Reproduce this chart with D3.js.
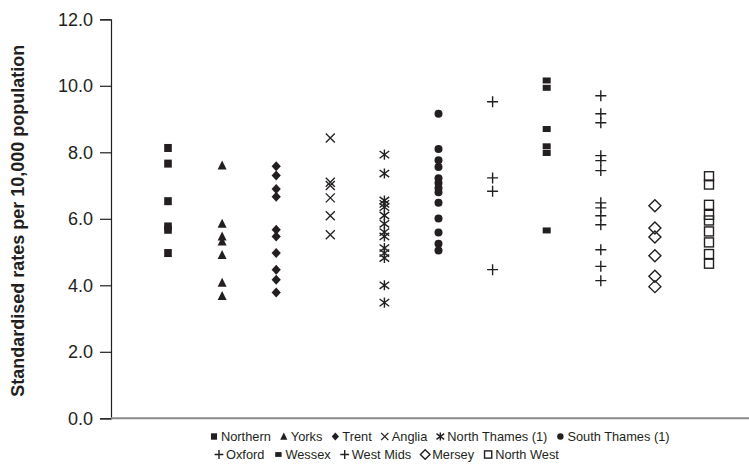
<!DOCTYPE html>
<html>
<head>
<meta charset="utf-8">
<script src="https://cdn.jsdelivr.net/npm/d3@7"></script>
<style>
  body { margin: 0; background: #fff; }
  svg text { font-family: "Liberation Sans", Arial, sans-serif; fill: #231f20; }
</style>
</head>
<body>
<div id="chart"></div>
<script>
// regions in x order
const regions = ["Northern", "Yorks", "Trent", "Anglia", "North Thames (1)", "South Thames (1)",
                 "Oxford", "Wessex", "West Mids", "Mersey", "North West"];

// standardised rates
const northern = [8.13, 7.66, 6.53, 5.77, 5.67, 4.97];
const yorks = [7.6, 5.85, 5.47, 5.32, 4.91, 4.08, 3.68];
const trent = [7.58, 7.3, 6.9, 6.66, 5.67, 5.47, 4.97, 4.47, 4.17, 3.78];
const anglia = [8.43, 7.1, 7.0, 6.63, 6.09, 5.52];
const northThames = [7.93, 7.36, 6.55, 6.45, 6.35, 6.1, 5.85, 5.6, 5.47, 5.12, 4.97, 4.82, 4.0, 3.48];
const southThames = [9.16, 8.1, 7.76, 7.56, 7.22, 7.08, 6.93, 6.8, 6.48, 6.01, 5.59, 5.25, 5.05];
const oxford = [9.52, 7.23, 6.83, 4.47];
const wessex = [10.16, 9.94, 8.7, 8.18, 7.98, 5.65];
const westMids = [9.7, 9.16, 8.89, 7.9, 7.75, 7.45, 6.48, 6.33, 6.09, 5.82, 5.07, 4.57, 4.14];
const mersey = [6.39, 5.72, 5.45, 4.89, 4.27, 3.96];
const northWest = [7.28, 7.03, 6.42, 6.12, 5.95, 5.62, 5.29, 4.94, 4.65];

const series = [northern, yorks, trent, anglia, northThames, southThames,
                oxford, wessex, westMids, mersey, northWest];
const markers = ["square", "triangle", "diamond", "cross", "asterisk", "circle",
                 "plus", "rect", "plus", "openDiamond", "openSquare"];

const yTicks = [0, 2, 4, 6, 8, 10, 12];
const legendRow1 = [0, 1, 2, 3, 4, 5];
const legendRow2 = [6, 7, 8, 9, 10];

const width = 749, height = 464;
const ink = "#231f20";

const svg = d3.select("#chart").append("svg")
    .attr("width", width)
    .attr("height", height);

const x = d3.scalePoint().domain(regions).range([168, 709]);
const y = d3.scaleLinear().domain([0, 12]).range([418.3, 19.3]);

// draws one marker centred on 0,0
function drawMarker(g, type, s) {
    s = s || 1;
    if (type === "square") {
        g.append("rect").attr("x", -3.8 * s).attr("y", -4 * s).attr("width", 7.6 * s).attr("height", 8 * s).attr("fill", ink);
    } else if (type === "rect") {
        g.append("rect").attr("x", -4 * s).attr("y", -3 * s).attr("width", 8 * s).attr("height", 6 * s).attr("fill", ink);
    } else if (type === "triangle") {
        g.append("path").attr("d", `M0,${-5 * s}L${4.5 * s},${4 * s}L${-4.5 * s},${4 * s}Z`).attr("fill", ink);
    } else if (type === "diamond") {
        g.append("path").attr("d", `M0,${-5 * s}L${4.6 * s},0L0,${5 * s}L${-4.6 * s},0Z`).attr("fill", ink);
    } else if (type === "circle") {
        g.append("circle").attr("r", 4 * s).attr("fill", ink);
    } else if (type === "cross") {
        const r = 4.5 * s;
        g.append("path").attr("d", `M${-r},${-r}L${r},${r}M${-r},${r}L${r},${-r}`)
            .attr("stroke", ink).attr("stroke-width", 1.3).attr("fill", "none");
    } else if (type === "asterisk") {
        const r = 4.8 * s;
        g.append("path").attr("d", `M${-r},${-r * 0.75}L${r},${r * 0.75}M${-r},${r * 0.75}L${r},${-r * 0.75}M0,${-r * 1.05}L0,${r * 1.05}`)
            .attr("stroke", ink).attr("stroke-width", 1.4).attr("fill", "none");
    } else if (type === "plus") {
        const r = 5.5 * s;
        g.append("path").attr("d", `M${-r},0L${r},0M0,${-r}L0,${r}`)
            .attr("stroke", ink).attr("stroke-width", 1.4).attr("fill", "none");
    } else if (type === "openDiamond") {
        g.append("path").attr("d", `M0,${-6 * s}L${6 * s},0L0,${6 * s}L${-6 * s},0Z`)
            .attr("stroke", ink).attr("stroke-width", 1.4).attr("fill", "none");
    } else if (type === "openSquare") {
        g.append("rect").attr("x", -4.5 * s).attr("y", -4.5 * s).attr("width", 9 * s).attr("height", 9 * s)
            .attr("stroke", ink).attr("stroke-width", 1.4).attr("fill", "none");
    }
}

// y axis
const yAxis = svg.append("g")
    .attr("transform", "translate(111,0)")
    .call(d3.axisLeft(y).tickValues(yTicks).tickFormat(d3.format(".1f")).tickSize(11).tickPadding(7));
yAxis.select(".domain").attr("stroke", ink).attr("stroke-width", 1.2);
yAxis.selectAll(".tick line").attr("stroke", ink).attr("stroke-width", 1.2);
yAxis.selectAll(".tick text").style("font-size", "18px").attr("fill", ink);

// x axis baseline (grey)
svg.append("line")
    .attr("x1", 111).attr("x2", width)
    .attr("y1", y(0)).attr("y2", y(0))
    .attr("stroke", "#8a8a8a").attr("stroke-width", 2);

// y title
svg.append("text")
    .attr("transform", `translate(24,${(y(0) + y(12)) / 2 + 2}) rotate(-90)`)
    .attr("text-anchor", "middle")
    .style("font-size", "18px")
    .style("font-weight", "bold")
    .text("Standardised rates per 10,000 population");

// points
series.forEach((vals, i) => {
    vals.forEach(v => {
        const g = svg.append("g").attr("transform", `translate(${x(regions[i])},${y(v)})`);
        drawMarker(g, markers[i]);
    });
});

// legend
function legendRow(items, startX, baseY, gap) {
    let cx = startX;
    items.forEach(i => {
        const g = svg.append("g").attr("transform", `translate(${cx},${baseY - 4.5})`);
        drawMarker(g, markers[i], 0.8);
        const t = svg.append("text")
            .attr("x", cx + 7).attr("y", baseY)
            .style("font-size", "12.8px")
            .text(regions[i]);
        cx = cx + 7 + t.node().getComputedTextLength() + gap;
    });
}
legendRow(legendRow1, 214, 441, 13);
legendRow(legendRow2, 219, 459, 14);
</script>
</body>
</html>
